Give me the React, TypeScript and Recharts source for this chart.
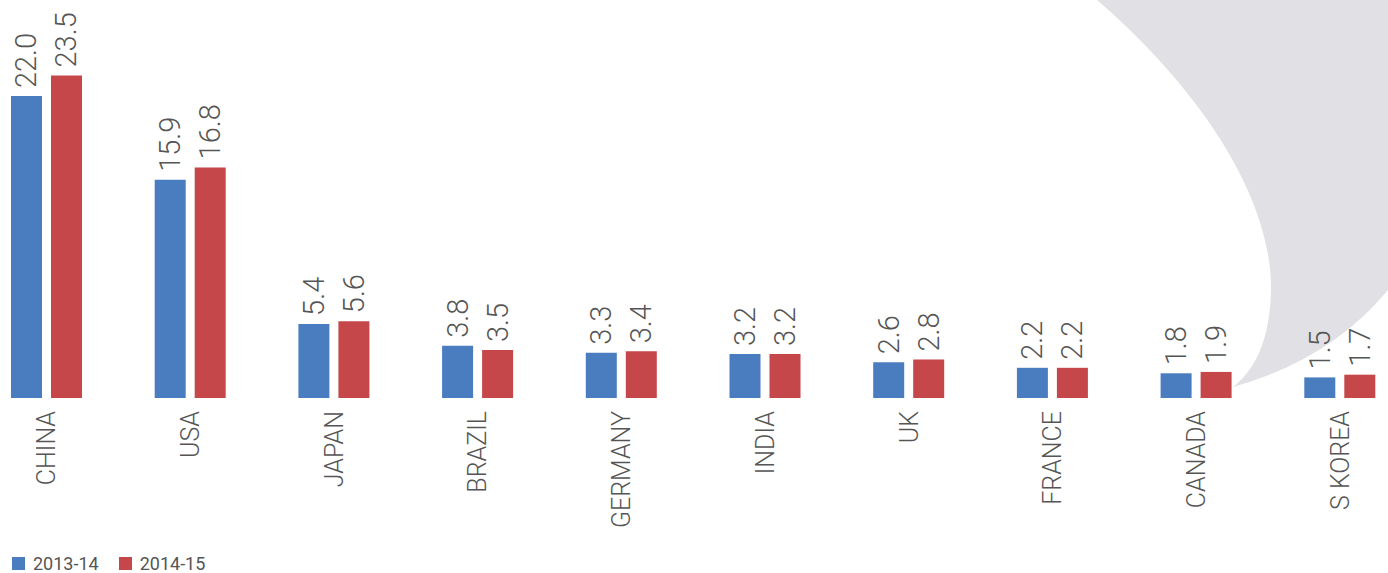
import { BarChart, Bar, XAxis, YAxis, Legend } from "recharts";

const countries = ["CHINA", "USA", "JAPAN", "BRAZIL", "GERMANY", "INDIA", "UK", "FRANCE", "CANADA", "S KOREA"];
const fy2013 = [22.0, 15.9, 5.4, 3.8, 3.3, 3.2, 2.6, 2.2, 1.8, 1.5];
const fy2014 = [23.5, 16.8, 5.6, 3.5, 3.4, 3.2, 2.8, 2.2, 1.9, 1.7];

const BLUE = "#4a7dbf";
const RED = "#c6474a";
const TEXT = "#555";
const FONT = "Roboto, 'Noto Sans', sans-serif";

const data = countries.map((c, i) => ({ country: c, a: fy2013[i], b: fy2014[i] }));

function ValueLabel(props: any) {
  const { x, y, width, value } = props;
  const cx = x + width / 2;
  const ty = y - 8;
  return (
    <text x={cx} y={ty} transform={`rotate(-90, ${cx}, ${ty})`} textAnchor="start"
      dominantBaseline="central" fill={TEXT} fontSize={29} fontWeight={300} fontFamily={FONT}>
      {value.toFixed(1)}
    </text>
  );
}

function CountryTick(props: any) {
  const { x, y, payload } = props;
  const ty = y + 13;
  return (
    <text x={x} y={ty} transform={`rotate(-90, ${x}, ${ty})`} textAnchor="end"
      dominantBaseline="central" fill={TEXT} fontSize={25} fontWeight={300} fontFamily={FONT}>
      {payload.value}
    </text>
  );
}

function LegendBox(props: any) {
  const items = props.payload || [];
  return (
    <div style={{ height: 30, display: "flex", alignItems: "center", paddingLeft: 37, paddingTop: 10, boxSizing: "border-box" }}>
      {items.map((it: any) => (
        <div key={it.value} style={{ display: "flex", alignItems: "center", marginRight: 20 }}>
          <span style={{ width: 13, height: 13, background: it.color, display: "inline-block", marginRight: 8 }} />
          <span style={{ fontFamily: FONT, fontSize: 18, color: TEXT }}>{it.value}</span>
        </div>
      ))}
    </div>
  );
}

export default function App() {
  return (
    <div style={{ position: "absolute", left: 0, top: 0, width: 1388, height: 573, overflow: "hidden", background: "#fff" }}>
      <svg width={1388} height={573} style={{ position: "absolute", left: 0, top: 0 }}>
        <path d="M1097,0 C1190,80 1272,190 1271,290 C1270,340 1255,370 1233,387 Q1330,360 1388,290 L1388,0 Z" fill="#e1e1e5" />
      </svg>
      <div style={{ position: "absolute", left: -25, top: 0 }}>
        <BarChart width={1437} height={573} data={data} margin={{ top: 0, right: 0, left: 0, bottom: 0 }}
          barSize={31} barGap={9}>
          <XAxis dataKey="country" axisLine={false} tickLine={false} tickSize={0} tickMargin={0}
            height={145} interval={0} tick={<CountryTick />} />
          <YAxis hide domain={[0, 29]} />
          <Legend verticalAlign="bottom" align="left" content={<LegendBox />} />
          <Bar dataKey="a" name="2013-14" fill={BLUE} isAnimationActive={false} label={<ValueLabel />} />
          <Bar dataKey="b" name="2014-15" fill={RED} isAnimationActive={false} label={<ValueLabel />} />
        </BarChart>
      </div>
    </div>
  );
}
